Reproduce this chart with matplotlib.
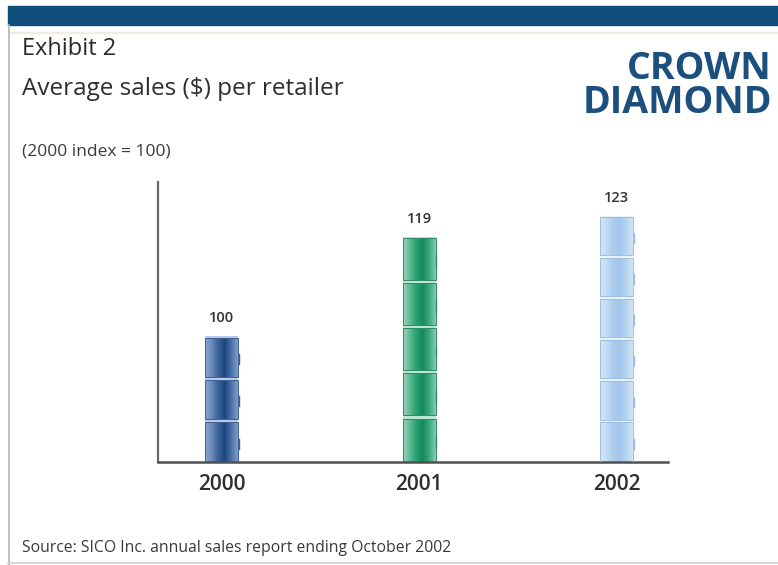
import numpy as np
import matplotlib
matplotlib.use("Agg")
import matplotlib.pyplot as plt
from matplotlib.colors import LinearSegmentedColormap
from matplotlib.patches import Rectangle

# Index of average sales per retailer, 2000 = 100
years = ["2000", "2001", "2002"]
index_values = [100, 119, 123]

# Can shading across the width of each bar: light edge -> dark core -> edge
can_shades = [
    ["#8aa6cf", "#6a8bbd", "#3a6199", "#1c467f", "#4a70a8", "#7f9dc8"],
    ["#9ad4bb", "#5fbb94", "#2aa070", "#138a5c", "#3aa87c", "#86cbb0"],
    ["#d6e7f7", "#c2dbf3", "#aacdee", "#a2c7ec", "#b6d4f1", "#d3e5f6"],
]
gap_colors = ["#b8cbe6", "#b9e6d3", "#e8f2fb"]
edge_colors = ["#3d5f92", "#2f8a66", "#9dbfe0"]

W, H = 778, 565
BASE = 76.0          # value axis starts here
CAN_UNIT = 8.2       # approximate value span of one can
BAR_WIDTH = 0.167

plt.rcParams["font.family"] = ["Open Sans", "DejaVu Sans"]

fig = plt.figure(figsize=(W / 100, H / 100), dpi=100)


def fx(x):
    return x / W


def fy(y):
    return 1 - y / H


# Page frame: top band, left rule, bottom rule
fig.patches.append(Rectangle((fx(8), fy(25)), 1 - fx(8), fy(6) - fy(25),
                             transform=fig.transFigure, color="#0f4d7b", zorder=0))
fig.patches.append(Rectangle((fx(8), fy(33)), 1 - fx(8), 0.0025,
                             transform=fig.transFigure, color="#f1ece6", zorder=0))
fig.lines.append(plt.Line2D([fx(8.5), fx(8.5)], [fy(25), fy(565)],
                            transform=fig.transFigure, color="#b5b5b5", lw=1.2))
fig.lines.append(plt.Line2D([fx(8), 1], [fy(563), fy(563)],
                            transform=fig.transFigure, color="#cfcfcf", lw=1.2))

# Header text
fig.text(fx(22), fy(49), "Exhibit 2", fontsize=17, color="#2a2a2a",
         va="center", ha="left", fontweight="medium")
fig.text(fx(22), fy(89), "Average sales ($) per retailer", fontsize=17.5,
         color="#2e2e2e", va="center", ha="left")
fig.text(fx(22), fy(152), "(2000 index = 100)", fontsize=12.5, color="#3a3a3a",
         va="center", ha="left")
fig.text(fx(772), fy(86), "CROWN\nDIAMOND", fontsize=27, color="#1a4f7e",
         fontweight="bold", va="center", ha="right", multialignment="right",
         linespacing=0.88)
fig.text(fx(22), fy(548), "Source: SICO Inc. annual sales report ending October 2002",
         fontsize=11.3, color="#3a3a3a", va="center", ha="left")

# Chart area
ax = fig.add_axes([fx(158), fy(462), fx(668) - fx(158), fy(182) - fy(462)])
x = np.arange(len(years))
heights = [v - BASE for v in index_values]
ax.bar(x, heights, bottom=BASE, width=BAR_WIDTH, color=gap_colors, zorder=1)

grad = np.linspace(0, 1, 64).reshape(1, -1)
for i, (xi, v) in enumerate(zip(x, index_values)):
    cmap = LinearSegmentedColormap.from_list(f"can{i}", can_shades[i])
    n_cans = max(1, int(round((v - BASE) / CAN_UNIT)))
    step = (v - BASE) / n_cans
    gap = step * 0.035
    x0, x1 = xi - BAR_WIDTH / 2, xi + BAR_WIDTH / 2
    for k in range(n_cans):
        y0 = BASE + k * step + (gap if k > 0 else 0)
        y1 = BASE + (k + 1) * step - gap
        im = ax.imshow(grad, extent=[x0, x1, y0, y1], cmap=cmap,
                       aspect="auto", interpolation="bilinear", zorder=2)
        box = Rectangle((x0, y0), x1 - x0, y1 - y0, facecolor="none",
                        edgecolor=edge_colors[i], lw=0.7, zorder=3)
        ax.add_patch(box)
        im.set_clip_path(box)
        # little handle on the right side of each can
        ax.plot([x1 + 0.004, x1 + 0.004], [y0 + step * 0.3, y0 + step * 0.55],
                color=edge_colors[i], lw=1.0, zorder=3)
    ax.annotate(str(v), (xi, v), xytext=(0, 8), textcoords="offset points",
                ha="center", va="bottom", fontsize=10.5, color="#333333",
                fontweight="semibold")

ax.set_xlim(-0.321, 2.26)
ax.set_ylim(BASE, BASE + 280 / 5.24)
ax.set_xticks(x)
ax.set_xticklabels(years, fontsize=15, fontweight="semibold", color="#2e2e2e")
ax.set_yticks([])
ax.tick_params(axis="x", length=0, pad=9)
for side in ["top", "right"]:
    ax.spines[side].set_visible(False)
ax.spines["left"].set_color("#6a6a6a")
ax.spines["left"].set_linewidth(1.6)
ax.spines["bottom"].set_color("#505050")
ax.spines["bottom"].set_linewidth(1.8)
ax.set_facecolor("none")

fig.savefig("out.png", dpi=100)
